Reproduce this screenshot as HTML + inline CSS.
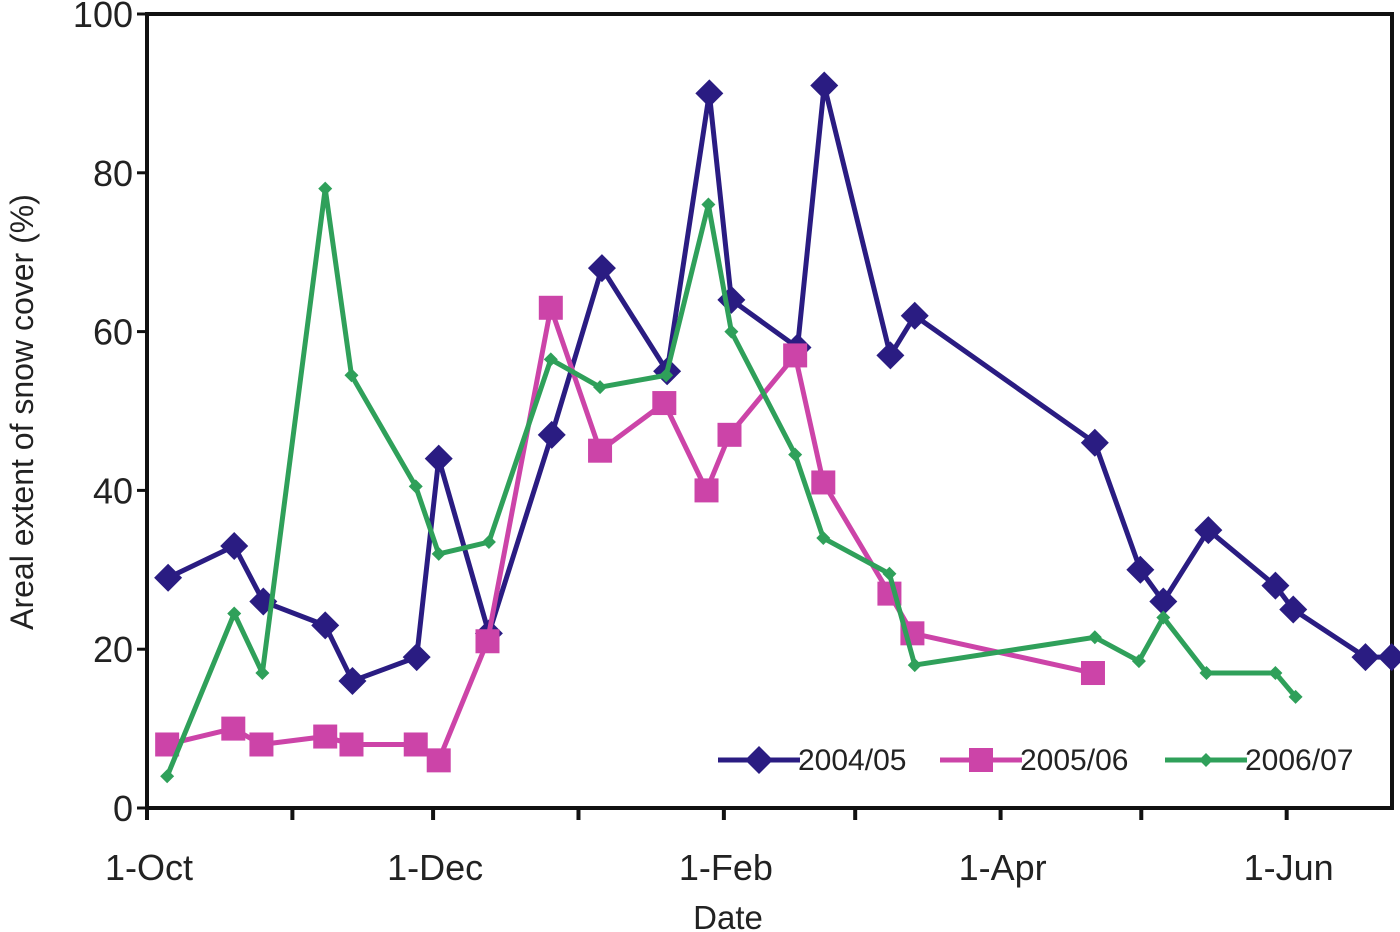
<!DOCTYPE html>
<html><head><meta charset="utf-8"><style>
html,body{margin:0;padding:0;background:#fff;}
svg{display:block;font-family:"Liberation Sans",Arial,sans-serif;}
</style></head><body>
<svg id="chart" width="1400" height="932" viewBox="0 0 1400 932" xmlns="http://www.w3.org/2000/svg">
<g id="axes"></g>
<g id="series"></g>
<g id="legend"></g>
<text x="0" y="0" transform="translate(33,412) rotate(-90)" text-anchor="middle" font-size="32" fill="#222">Areal extent of snow cover (%)</text>
<text x="728" y="929" text-anchor="middle" font-size="33" fill="#222">Date</text>
</svg>
<script>
const yTicks = [0, 20, 40, 60, 80, 100];
const monthDays = [0, 31, 61, 92, 123, 151, 182, 212, 243];
const monthLabels = ["1-Oct", "", "1-Dec", "", "1-Feb", "", "1-Apr", "", "1-Jun"];
const seriesNames = ["2004/05", "2005/06", "2006/07"];
const days0405 = [4.5, 18.6, 24.8, 38, 43.8, 57.5, 62.2, 72.9, 86.3, 97, 110.9, 119.9, 124.6, 138.7, 144.4, 158.5, 163.7, 202.1, 211.8, 216.7, 226.3, 240.6, 244.4, 259.8, 265.4];
const vals0405 = [29, 33, 26, 23, 16, 19, 44, 22, 47, 68, 55, 90, 64, 58, 91, 57, 62, 46, 30, 26, 35, 28, 25, 19, 19];
const days0506 = [4.3, 18.4, 24.4, 38, 43.6, 57.3, 62.2, 72.6, 86.1, 96.6, 110.3, 119.3, 124.2, 138.2, 144.2, 158.3, 163.2, 201.7];
const vals0506 = [8, 10, 8, 9, 8, 8, 6, 21, 63, 45, 51, 40, 47, 57, 41, 27, 22, 17];
const days0607 = [4.3, 18.6, 24.6, 38, 43.6, 57.3, 62.2, 72.9, 86.1, 96.6, 110.7, 119.7, 124.6, 138.2, 144.2, 158.3, 163.7, 202.1, 211.5, 216.7, 225.9, 240.6, 244.9];
const vals0607 = [4, 24.5, 17, 78, 54.5, 40.5, 32, 33.5, 56.5, 53, 54.5, 76, 60, 44.5, 34, 29.5, 18, 21.5, 18.5, 24, 17, 17, 14];

const NS = "http://www.w3.org/2000/svg";
const X0 = 147, PXDAY = 4.69, Y0 = 808, PXUNIT = 7.94, XEND = 1392;
function xs(d){ return X0 + d * PXDAY; }
function ys(v){ return Y0 - v * PXUNIT; }
function mk(tag, attrs, parent){
  const e = document.createElementNS(NS, tag);
  for (const k in attrs) e.setAttribute(k, attrs[k]);
  parent.appendChild(e);
  return e;
}
const axes = document.getElementById("axes");
const ser = document.getElementById("series");
const leg = document.getElementById("legend");

const frame = mk("rect", {x: X0, y: ys(100), width: XEND - X0, height: Y0 - ys(100), fill: "none", stroke: "#111", "stroke-width": 4}, axes);



yTicks.forEach(v => {
  const t = mk("line", {x1: X0 - 10, x2: X0, y1: ys(v), y2: ys(v), stroke: "#111", "stroke-width": 3}, axes);
  
  
  const l = mk("text", {x: X0 - 14, y: ys(v) + 13, "text-anchor": "end", "font-size": 36, fill: "#222"}, axes);
  l.textContent = v;
  
  
});
monthDays.forEach((d, i) => {
  const t = mk("line", {x1: xs(d), x2: xs(d), y1: Y0, y2: Y0 + 12, stroke: "#111", "stroke-width": 4}, axes);
  
  
  if (monthLabels[i]) {
    const l = mk("text", {x: xs(d) + 2, y: Y0 + 72, "text-anchor": "middle", "font-size": 36, fill: "#222"}, axes);
    l.textContent = monthLabels[i];
    
    
  }
});

function marker(type, x, y, color, parent){
  let m;
  if (type === "diamond") {
    const r = 14;
    m = mk("polygon", {points: `${x},${y-r} ${x+r},${y} ${x},${y+r} ${x-r},${y}`, fill: color}, parent);
  } else if (type === "square") {
    const r = 12;
    m = mk("rect", {x: x - r, y: y - r, width: 2*r, height: 2*r, fill: color}, parent);
  } else {
    const r = 7;
    m = mk("polygon", {points: `${x},${y-r} ${x+r},${y} ${x},${y+r} ${x-r},${y}`, fill: color}, parent);
  }
  return m;
}
const defs = [
  {days: days0405, vals: vals0405, color: "#2a1c82", type: "diamond", key: "2004-05"},
  {days: days0506, vals: vals0506, color: "#cc44a8", type: "square", key: "2005-06"},
  {days: days0607, vals: vals0607, color: "#2fa05a", type: "small", key: "2006-07"}
];
defs.forEach(s => {
  const g = mk("g", {}, ser);
  
  
  const pts = s.days.map((d, i) => xs(d) + "," + ys(s.vals[i])).join(" ");
  const pl = mk("polyline", {points: pts, fill: "none", stroke: s.color, "stroke-width": 5, "stroke-linejoin": "round"}, g);
  
  
  s.days.forEach((d, i) => {
    const m = marker(s.type, xs(d), ys(s.vals[i]), s.color, g);
    
    
  });
});
const legX = [718, 940, 1165];
defs.forEach((s, i) => {
  const g = mk("g", {}, leg);
  
  
  mk("line", {x1: legX[i], x2: legX[i] + 82, y1: 760, y2: 760, stroke: s.color, "stroke-width": 5}, g);
  marker(s.type, legX[i] + 41, 760, s.color, g);
  const t = mk("text", {x: legX[i] + 80, y: 770, "font-size": 30, fill: "#222"}, g);
  t.textContent = seriesNames[i];
});
</script>
</body></html>
